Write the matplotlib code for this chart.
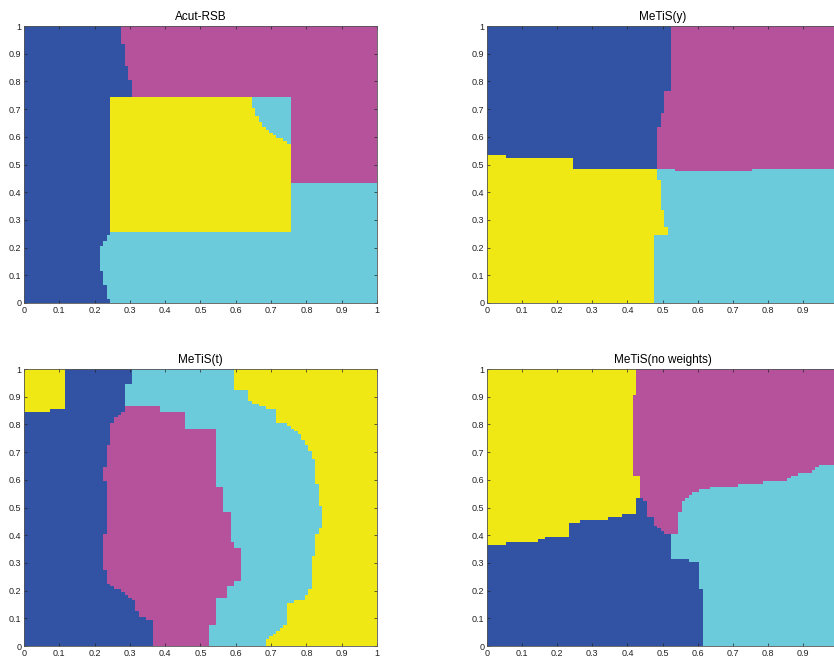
import numpy as np
import matplotlib
matplotlib.use("Agg")
import matplotlib.pyplot as plt
from matplotlib.colors import ListedColormap
from matplotlib.path import Path

plt.rcParams['font.family'] = ['Liberation Sans', 'DejaVu Sans']

# partition colours: 0 blue, 1 magenta, 2 cyan, 3 yellow
part_colors = ['#3252a3', '#b6529c', '#6ccbda', '#f0e814']
BLUE, MAGENTA, CYAN, YELLOW = 0, 1, 2, 3

titles = ['Acut-RSB', 'MeTiS(y)', 'MeTiS(t)', 'MeTiS(no weights)']
tick_values = [0, 0.1, 0.2, 0.3, 0.4, 0.5, 0.6, 0.7, 0.8, 0.9, 1]
tick_labels = ['0', '0.1', '0.2', '0.3', '0.4', '0.5', '0.6', '0.7', '0.8', '0.9', '1']

# ---- Acut-RSB subdomains ----
acut_background = CYAN
acut_magenta = [(0.248, 0.433), (1.0, 0.433), (1.0, 1.0), (0.248, 1.0)]
acut_yellow = [(0.248, 0.252), (0.752, 0.252), (0.752, 0.748), (0.248, 0.748)]
acut_blue = [(0.0, 0.0), (0.249, 0.0), (0.234, 0.05), (0.223, 0.10), (0.215, 0.13),
             (0.211, 0.17), (0.218, 0.20), (0.234, 0.23), (0.247, 0.252),
             (0.247, 0.748), (0.303, 0.748), (0.303, 0.805), (0.294, 0.805),
             (0.294, 0.853), (0.288, 0.853), (0.288, 0.89), (0.28, 0.89),
             (0.28, 0.94), (0.272, 0.94), (0.272, 1.0), (0.0, 1.0)]
acut_cyan = [(0.639, 0.748), (0.752, 0.748), (0.752, 0.577), (0.74, 0.585),
             (0.716, 0.60), (0.698, 0.62), (0.679, 0.64), (0.664, 0.66), (0.652, 0.697)]

# ---- MeTiS(y) subdomains ----
mety_background = CYAN
mety_magenta = [(0.48, 0.481), (0.758, 0.476), (0.758, 0.487), (1.0, 0.487),
                (1.0, 1.0), (0.48, 1.0)]
mety_blue = [(0.0, 0.534), (0.055, 0.534), (0.055, 0.526), (0.24, 0.526),
             (0.24, 0.487), (0.482, 0.487), (0.482, 0.633), (0.492, 0.633),
             (0.492, 0.656), (0.498, 0.656), (0.498, 0.685), (0.507, 0.685),
             (0.507, 0.763), (0.528, 0.763), (0.528, 1.0), (0.0, 1.0)]
mety_yellow = [(0.0, 0.0), (0.475, 0.0), (0.475, 0.249), (0.513, 0.249),
               (0.513, 0.27), (0.504, 0.27), (0.504, 0.337), (0.497, 0.337),
               (0.497, 0.367), (0.49, 0.367), (0.49, 0.44), (0.485, 0.44),
               (0.485, 0.487), (0.24, 0.487), (0.24, 0.526), (0.055, 0.526),
               (0.055, 0.534), (0.0, 0.534)]

# ---- MeTiS(t) subdomains ----
mett_background = YELLOW
mett_cyan = [(0.0, 0.0), (0.688, 0.0), (0.688, 0.022), (0.712, 0.046), (0.74, 0.076),
             (0.75, 0.154), (0.797, 0.172), (0.81, 0.208), (0.818, 0.311),
             (0.83, 0.407), (0.849, 0.45), (0.844, 0.48), (0.835, 0.528),
             (0.825, 0.642), (0.816, 0.696), (0.792, 0.745), (0.773, 0.775),
             (0.745, 0.80), (0.716, 0.81), (0.712, 0.85), (0.683, 0.859),
             (0.65, 0.877), (0.636, 0.89), (0.631, 0.92), (0.608, 0.925),
             (0.594, 0.931), (0.594, 1.0), (0.0, 1.0)]
mett_blue = [(0.0, 0.0), (0.38, 0.0), (0.38, 0.853), (0.286, 0.853), (0.286, 0.942),
             (0.30, 0.942), (0.30, 1.0), (0.0, 1.0)]
mett_magenta = [(0.286, 0.862), (0.385, 0.862), (0.385, 0.846), (0.456, 0.846),
                (0.456, 0.782), (0.546, 0.782), (0.546, 0.575), (0.565, 0.575),
                (0.565, 0.485), (0.584, 0.485), (0.584, 0.376), (0.598, 0.376),
                (0.598, 0.357), (0.617, 0.357), (0.617, 0.232), (0.593, 0.232),
                (0.593, 0.21), (0.574, 0.21), (0.574, 0.178), (0.55, 0.178),
                (0.55, 0.07), (0.527, 0.07), (0.527, 0.0), (0.365, 0.0),
                (0.365, 0.09), (0.348, 0.10), (0.329, 0.11), (0.315, 0.13),
                (0.31, 0.16), (0.291, 0.185), (0.272, 0.20), (0.248, 0.215),
                (0.234, 0.226), (0.234, 0.274), (0.225, 0.274), (0.225, 0.408),
                (0.239, 0.408), (0.239, 0.599), (0.225, 0.599), (0.225, 0.641),
                (0.234, 0.641), (0.234, 0.726), (0.244, 0.726), (0.244, 0.794),
                (0.258, 0.818), (0.281, 0.846)]
mett_yellow = [(0.0, 0.847), (0.078, 0.847), (0.078, 0.855), (0.11, 0.855),
               (0.11, 0.895), (0.118, 0.895), (0.118, 1.0), (0.0, 1.0)]

# ---- MeTiS(no weights) subdomains ----
metn_background = CYAN
metn_magenta = [(0.40, 1.0), (1.0, 1.0), (1.0, 0.65), (0.947, 0.65), (0.924, 0.63),
                (0.89, 0.624), (0.853, 0.60), (0.777, 0.588), (0.743, 0.582),
                (0.672, 0.576), (0.615, 0.566), (0.588, 0.551), (0.56, 0.522),
                (0.55, 0.486), (0.55, 0.40), (0.40, 0.40)]
metn_yellow = [(0.0, 1.0), (0.427, 1.0), (0.427, 0.9), (0.418, 0.9), (0.418, 0.78),
               (0.413, 0.78), (0.413, 0.612), (0.435, 0.612), (0.435, 0.30),
               (0.0, 0.30)]
metn_blue = [(0.0, 0.0), (0.615, 0.0), (0.615, 0.208), (0.607, 0.208), (0.607, 0.305),
             (0.578, 0.305), (0.578, 0.317), (0.521, 0.317), (0.521, 0.40),
             (0.512, 0.40), (0.483, 0.431), (0.469, 0.467), (0.455, 0.467),
             (0.455, 0.52), (0.445, 0.533), (0.426, 0.533), (0.422, 0.479),
             (0.388, 0.479), (0.388, 0.467), (0.35, 0.467), (0.35, 0.457),
             (0.27, 0.457), (0.27, 0.443), (0.24, 0.443), (0.24, 0.431),
             (0.236, 0.397), (0.17, 0.397), (0.17, 0.383), (0.15, 0.383),
             (0.15, 0.373), (0.06, 0.373), (0.06, 0.361), (0.0, 0.361)]

panels = [
    (acut_background, [(MAGENTA, acut_magenta), (YELLOW, acut_yellow),
                       (BLUE, acut_blue), (CYAN, acut_cyan)]),
    (mety_background, [(MAGENTA, mety_magenta), (BLUE, mety_blue),
                       (YELLOW, mety_yellow)]),
    (mett_background, [(CYAN, mett_cyan), (BLUE, mett_blue),
                       (MAGENTA, mett_magenta), (YELLOW, mett_yellow)]),
    (metn_background, [(MAGENTA, metn_magenta), (YELLOW, metn_yellow),
                       (BLUE, metn_blue)]),
]

# mesh nodes of the unit square
n = 101
nodes = np.linspace(0.0, 1.0, n)
gx, gy = np.meshgrid(nodes, nodes)
pts = np.column_stack([gx.ravel(), gy.ravel()])
h = nodes[1] - nodes[0]
edges = np.linspace(-h / 2, 1 + h / 2, n + 1)

def widen(v):
    # push vertices on the domain border outward so border nodes fall inside
    return -0.05 if v <= 0.0 else (1.05 if v >= 1.0 else v)

def label_field(background, regions):
    lab = np.full(gx.shape, background, dtype=float)
    for label, poly in regions:
        verts = [(widen(x), widen(y)) for x, y in poly]
        inside = Path(verts).contains_points(pts).reshape(gx.shape)
        lab[inside] = label
    return lab

cmap = ListedColormap(part_colors)

W, H = 834, 658
fig = plt.figure(figsize=(W / 100, H / 100), dpi=100)
axes_px = [(24, 26, 353, 277), (487, 26, 351, 277),
           (24, 369, 353, 277), (487, 369, 351, 277)]

for (left, top, w, hgt), title, (bg, regions) in zip(axes_px, titles, panels):
    ax = fig.add_axes([left / W, 1 - (top + hgt) / H, w / W, hgt / H])
    lab = label_field(bg, regions)
    ax.pcolormesh(edges, edges, lab, cmap=cmap, vmin=-0.5, vmax=3.5,
                  shading='flat', edgecolors='face', linewidth=0)
    ax.set_xlim(0, 1)
    ax.set_ylim(0, 1)
    ax.set_xticks(tick_values)
    ax.set_xticklabels(tick_labels)
    ax.set_yticks(tick_values)
    ax.set_yticklabels(tick_labels)
    ax.tick_params(direction='in', length=2.5, width=0.5, labelsize=6.5,
                   top=True, right=True, pad=2, colors='#222222')
    for sp in ax.spines.values():
        sp.set_linewidth(0.6)
        sp.set_color('#555555')
    ax.set_title(title, fontsize=8.5, pad=4)

fig.savefig('out.png', dpi=100)
